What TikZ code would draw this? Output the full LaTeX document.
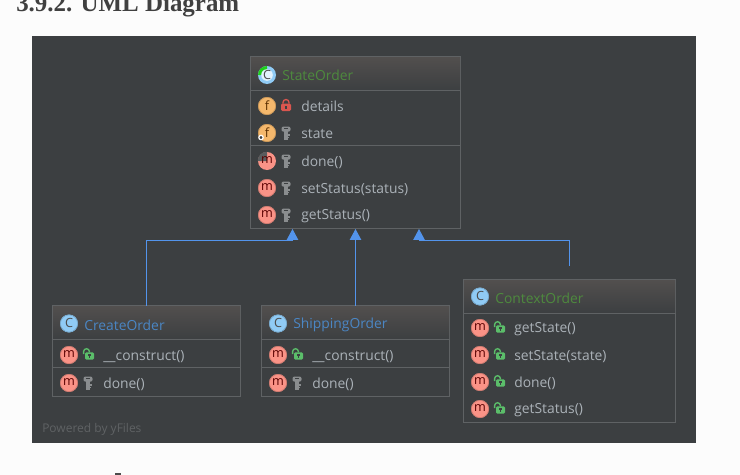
\documentclass[tikz,border=0pt]{standalone}
\usepackage{fontspec}
\setmainfont{Open Sans}
\newfontfamily\headfont{Liberation Serif}
\usetikzlibrary{arrows.meta}
\definecolor{bgdark}{HTML}{3C3F41}
\definecolor{frameg}{HTML}{5F6264}
\definecolor{headtop}{HTML}{524F4E}
\definecolor{txt}{HTML}{ABB2B8}
\definecolor{greent}{HTML}{4E8A3E}
\definecolor{bluet}{HTML}{4B86C4}
\definecolor{linkb}{HTML}{5394EC}
\definecolor{orangei}{HTML}{F5B86C}
\definecolor{redi}{HTML}{FA9387}
\definecolor{bluei}{HTML}{90CBF5}
\definecolor{keyg}{HTML}{8A8D8F}
\definecolor{lockr}{HTML}{D9564F}
\definecolor{lockg}{HTML}{5BBE6A}
\tikzset{
  x=0.75pt,y=-0.75pt,
  classbox/.style={draw=frameg,line width=0.75pt,fill=bgdark,anchor=north west,inner sep=0pt,outer sep=0pt},
  rowtext/.style={text=txt,font=\fontsize{10.4pt}{12pt}\selectfont,anchor=west,inner sep=0pt},
  titletext/.style={font=\fontsize{10.4pt}{12pt}\selectfont,anchor=west,inner sep=0pt},
  sepline/.style={draw=frameg,line width=0.75pt},
  gensolid/.style={draw=linkb,line width=0.75pt,-{Triangle[width=8.6pt,length=8.2pt,fill=linkb]}},
  icontext/.style={font=\fontsize{9.5pt}{9.5pt}\selectfont,text=#1,inner sep=0pt},
  micon/.pic={
    \fill[redi] (0,0) circle[radius=9];
    \draw[redi!80!black,line width=0.4pt] (0,0) circle[radius=8.6];
    \node[icontext=red!35!black] (-l) at (0,-0.7) {m};},
  mpart/.pic={
    \fill[redi] (0,0) circle[radius=9];
    \fill[bgdark!85!white] (0,0) -- (-9.3,0) arc[start angle=180,end angle=270,radius=9.3] -- cycle;
    \node[icontext=red!35!black] (-l) at (0,-0.7) {m};},
  ficon/.pic={
    \fill[orangei] (0,0) circle[radius=9];
    \draw[orangei!80!black,line width=0.4pt] (0,0) circle[radius=8.6];
    \node[icontext=orange!35!black] (-l) at (0,-0.7) {f};},
  cicon/.pic={
    \fill[bluei] (0,0) circle[radius=9];
    \draw[bluei!80!black,line width=0.4pt] (0,0) circle[radius=8.6];
    \node[icontext=black!70] (-l) at (0,-0.7) {C};},
  cpart/.pic={
    \fill[bluei] (0,0) circle[radius=9];
    \fill[green!60!greent] (0,0) -- (-9,0) arc[start angle=180,end angle=270,radius=9] -- cycle;
    \fill[white!75!bluei] (0,0) circle[radius=5.8];
    \node[icontext=black!70] (-l) at (0,-0.5) {C};},
  keyicon/.pic={
    \fill[keyg,rounded corners=1.5pt] (-4.5,-6.5) rectangle (4.5,-1.3);
    \fill[bgdark] (-2,-5) rectangle (2,-3.6);
    \fill[keyg] (-2,-2) rectangle (1.5,6.8);
    \fill[keyg] (1,1) rectangle (3.5,2.6);
    \fill[keyg] (1,3.6) rectangle (3,5.2);},
  lockicon/.pic={
    \fill[lockr,rounded corners=1pt] (-5,-2.5) rectangle (5,5);
    \draw[lockr,line width=1pt] (-3,-2.5) -- (-3,-3.5) arc[start angle=180,end angle=360,radius=3] -- (3,-2.5);
    \fill[bgdark] (-1,0) rectangle (1,2.8);},
  openlock/.pic={
    \fill[lockg,rounded corners=1pt] (-3,-2.7) rectangle (6,4.7);
    \draw[lockg,line width=1pt] (-4.4,-1) -- (-4.4,-3.4) arc[start angle=180,end angle=360,radius=2.9] -- (1.4,-2.7);
    \fill[bgdark] (-0.2,-0.6) rectangle (3.2,0.7);
    \fill[bgdark] (0.9,0.5) rectangle (2.1,2.6);},
}
\begin{document}
\begin{tikzpicture}
\useasboundingbox (0,0) rectangle (740,475);
\clip (0,0) rectangle (740,475);
\fill[white!99!black] (0,0) rectangle (740,475);
\node[anchor=base west,inner sep=0pt,text=black!75,font=\headfont\bfseries\fontsize{18.7pt}{20pt}\selectfont] (heading) at (16,11) {3.9.2. UML Diagram};
\fill[bgdark] (32,36) rectangle (696,443);
\fill[black!70] (115,473) rectangle (121,475);
\node[anchor=west,inner sep=0pt,text=frameg,font=\fontsize{9pt}{10pt}\selectfont] (powered) at (42,429) {Powered by yFiles};

% ---------- boxes
\node[classbox,minimum width=157.5pt,minimum height=129pt] (state) at (250.5,56.5) {};
\node[classbox,minimum width=141pt,minimum height=68.25pt] (create) at (52.5,305.5) {};
\node[classbox,minimum width=141pt,minimum height=68.25pt] (ship) at (261.5,305.5) {};
\node[classbox,minimum width=159pt,minimum height=107.25pt] (context) at (463.5,279.5) {};

% ---------- headers
\shade[top color=headtop,bottom color=bgdark] (251,57) rectangle (460,90.5);
\shade[top color=headtop,bottom color=bgdark] (53,306) rectangle (240,339.5);
\shade[top color=headtop,bottom color=bgdark] (262,306) rectangle (449,339.5);
\shade[top color=headtop,bottom color=bgdark] (464,280) rectangle (675,313);
\draw[sepline] (250.5,90.5) -- (460.5,90.5);
\draw[sepline] (250.5,145.5) -- (460.5,145.5);
\draw[sepline] (52.5,339.5) -- (240.5,339.5);
\draw[sepline] (52.5,367.5) -- (240.5,367.5);
\draw[sepline] (261.5,339.5) -- (449.5,339.5);
\draw[sepline] (261.5,367.5) -- (449.5,367.5);
\draw[sepline] (463.5,313.5) -- (675.5,313.5);

% ---------- StateOrder
\pic (si) at (267,75) {cpart};
\node[titletext,text=greent] (stitle) at (282,75.5) {StateOrder};
\pic (f1) at (267,106) {ficon};
\pic at (286,106) {lockicon};
\node[rowtext] (t1) at (301,106.5) {details};
\pic (f2) at (267,133) {ficon};
\draw[white,line width=0.9pt,fill=bgdark] (261,137.5) circle[radius=2.2];
\pic at (286,133) {keyicon};
\node[rowtext] (t2) at (301,134) {state};
\pic (m1) at (267,161) {mpart};
\pic at (286,161) {keyicon};
\node[rowtext] (t3) at (301,162.5) {done()};
\pic (m2) at (267,188) {micon};
\pic at (286,188) {keyicon};
\node[rowtext] (t4) at (301,189.5) {setStatus(status)};
\pic (m3) at (267,215) {micon};
\pic at (286,215) {keyicon};
\node[rowtext] (t5) at (301,216.5) {getStatus()};

% ---------- CreateOrder
\pic (ci) at (69,323.5) {cicon};
\node[titletext,text=bluet] (ctitle) at (84,325) {CreateOrder};
\pic (cm1) at (69,355) {micon};
\pic at (88,355) {openlock};
\node[rowtext] (c1) at (103,356.5) {\_\_construct()};
\pic (cm2) at (69,383) {micon};
\pic at (88,383) {keyicon};
\node[rowtext] (c2) at (103,384.5) {done()};

% ---------- ShippingOrder
\pic (hi) at (278,323.5) {cicon};
\node[titletext,text=bluet] (htitle) at (293,325) {ShippingOrder};
\pic (hm1) at (278,355) {micon};
\pic at (297,355) {openlock};
\node[rowtext] (h1) at (312,356.5) {\_\_construct()};
\pic (hm2) at (278,383) {micon};
\pic at (297,383) {keyicon};
\node[rowtext] (h2) at (312,384.5) {done()};

% ---------- ContextOrder
\pic (xi) at (480,296.5) {cicon};
\node[titletext,text=greent] (xtitle) at (495,298) {ContextOrder};
\pic (xm1) at (480,328) {micon};
\pic at (499,328) {openlock};
\node[rowtext] (x1) at (514,329.5) {getState()};
\pic (xm2) at (480,355) {micon};
\pic at (499,355) {openlock};
\node[rowtext] (x2) at (514,356.5) {setState(state)};
\pic (xm3) at (480,382) {micon};
\pic at (499,382) {openlock};
\node[rowtext] (x3) at (514,383.5) {done()};
\pic (xm4) at (480,409) {micon};
\pic at (499,409) {openlock};
\node[rowtext] (x4) at (514,410.5) {getStatus()};

% ---------- connectors
\coordinate (ctxend) at (569.5,265.5);
\coordinate (tipleft) at (292.5,229);
\coordinate (tipright) at (419,229);
\draw[gensolid] (create.north) |- (292.5,240.5) -- (tipleft);
\draw[gensolid] (ship.north) -- (ship.north |- tipleft);
\draw[gensolid] (ctxend) |- (419,240.5) -- (tipright);
\end{tikzpicture}
\end{document}
